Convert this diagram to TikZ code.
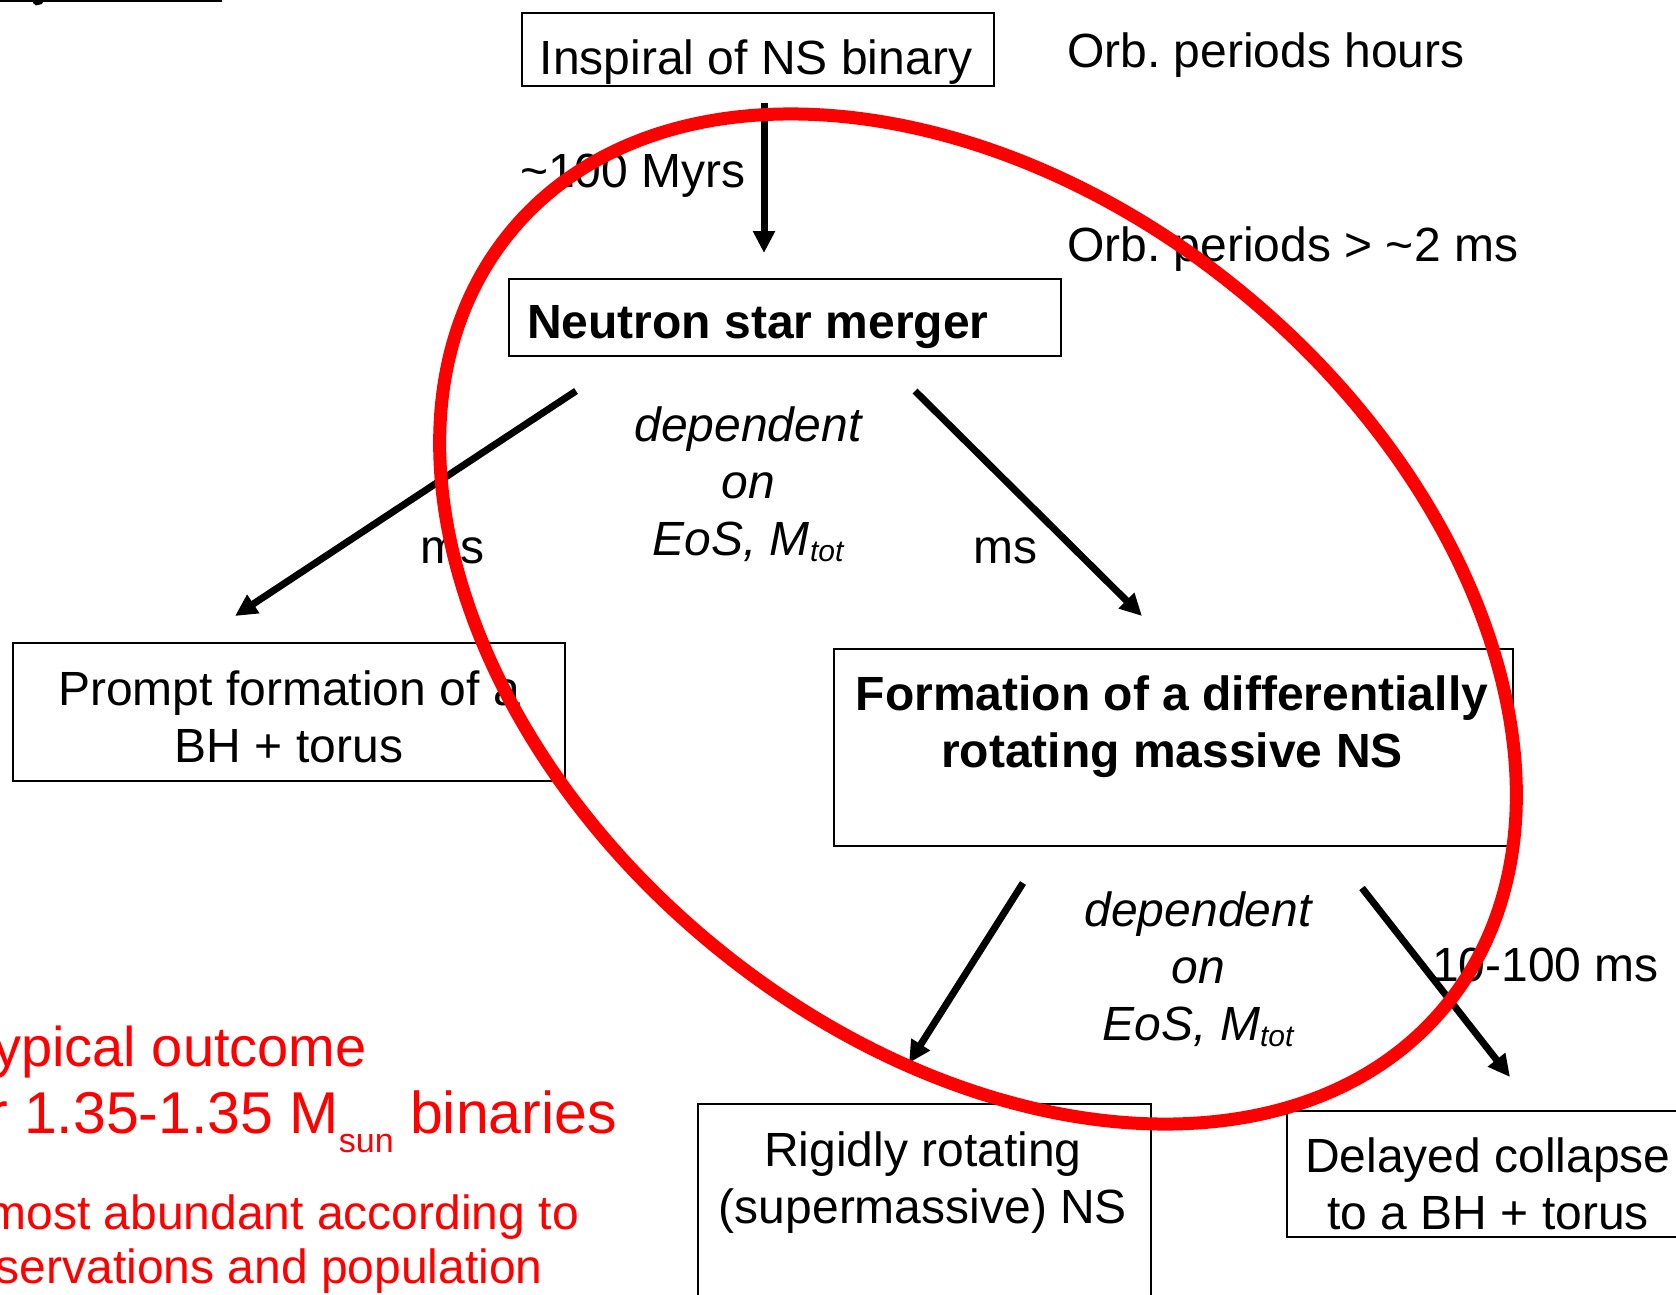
\documentclass[tikz,border=0pt]{standalone}
\usepackage{fontspec}
\setmainfont{Liberation Sans}
\usetikzlibrary{arrows.meta}
\newcommand\mylines[1]{\begin{tabular}[t]{@{}c@{}}#1\end{tabular}}
\frenchspacing
\begin{document}
\begin{tikzpicture}[x=1pt,y=1pt,
  txt/.style={inner sep=0pt, font=\fontsize{48}{57}\selectfont},
  box/.style={draw, line width=2pt, inner sep=0pt, anchor=north west},
  arr/.style={line width=7pt, -{Triangle[length=22pt,width=21pt]}},
  redtxt/.style={inner sep=0pt, text=red, anchor=base east}]
\clip (0,0) rectangle (1676,-1295);
\fill[white] (0,0) rectangle (1676,-1295);

% top-left cut-off underline
\draw[line width=2.5pt] (0,-1) -- (222,-1);
\fill (33,0) -- (44,0) -- (42,-4) -- (36,-5.5) -- (33,-3) -- cycle;

% boxes
\node[box, minimum width=472pt, minimum height=73pt] (inspiral) at (521,-12) {};
\node[box, minimum width=552pt, minimum height=77pt] (merger) at (508,-278) {};
\node[box, minimum width=552pt, minimum height=138pt] (prompt) at (12,-642) {};
\node[box, minimum width=679pt, minimum height=197pt] (formation) at (833,-648) {};
\node[box, minimum width=453pt, minimum height=230pt] (rigid) at (697,-1103) {};
\node[box, minimum width=420pt, minimum height=126pt] (delayed) at (1286,-1110) {};

% box texts
\node[txt, anchor=base] (tinspiral) at (756,-75) {Inspiral of NS binary};
\node[txt, anchor=base west, font=\fontsize{48}{57}\selectfont\bfseries] (tmerger) at (527,-338) {Neutron star merger};
\node[txt, anchor=base] (tprompt) at (289,-705) {\mylines{Prompt formation of a\\BH + torus}};
\node[txt, anchor=base, font=\fontsize{48}{57}\selectfont\bfseries] (tformation) at (1172,-710) {\mylines{Formation of a differentially\\rotating massive NS}};
\node[txt, anchor=base] (trigid) at (923,-1166) {\mylines{Rigidly rotating\\(supermassive) NS}};
\node[txt, anchor=base] (tdelayed) at (1488,-1172) {\mylines{Delayed collapse\\to a BH + torus}};

% side labels
\node[txt, anchor=base west] (orb1) at (1067,-68) {Orb. periods hours};
\node[txt, anchor=base west] (myrs) at (520,-187) {\textasciitilde100 Myrs};
\node[txt, anchor=base west] (orb2) at (1067,-261) {Orb. periods > \textasciitilde2 ms};
\node[txt, anchor=base west] (ms1) at (420,-563) {ms};
\node[txt, anchor=base west] (ms2) at (973,-563) {ms};
\node[txt, anchor=base west] (ms3) at (1432,-981) {10-100 ms};
\node[txt, anchor=base, font=\fontsize{48}{57}\selectfont\itshape] (dep1) at (748,-441)
  {\mylines{dependent\\on\\EoS, M{\fontsize{30}{30}\selectfont\raisebox{-6pt}{tot}}}};
\node[txt, anchor=base, font=\fontsize{48}{57}\selectfont\itshape] (dep2) at (1198,-926)
  {\mylines{dependent\\on\\EoS, M{\fontsize{30}{30}\selectfont\raisebox{-6pt}{tot}}}};

% arrows
\coordinate (a1s) at (764,-103); \coordinate (a1e) at (764,-253);
\coordinate (a2s) at (576,-391); \coordinate (a2e) at (235,-616);
\coordinate (a3s) at (915,-391); \coordinate (a3e) at (1142,-616);
\coordinate (a4s) at (1023,-883); \coordinate (a4e) at (909,-1063);
\coordinate (a5s) at (1362,-888); \coordinate (a5e) at (1510,-1077);
\draw[arr] (a1s) -- (a1e);
\draw[arr] (a2s) -- (a2e);
\draw[arr] (a3s) -- (a3e);
\draw[arr] (a4s) -- (a4e);
\draw[arr] (a5s) -- (a5e);

% red text (cut at the left edge)
\node[redtxt, font=\fontsize{56}{64}\selectfont] (r1) at (367,-1066) {ypical outcome};
\node[redtxt, font=\fontsize{59}{64}\selectfont] (r2) at (617,-1133)
  {r 1.35-1.35 M{\fontsize{34}{34}\selectfont\raisebox{-19pt}{sun}} binaries};
\node[redtxt, font=\fontsize{48}{57}\selectfont] (r3) at (579,-1229) {most abundant according to};
\node[redtxt, font=\fontsize{48}{57}\selectfont] (r4) at (543,-1283) {servations and population};

% red ellipse
\draw[red, line width=13pt, rotate around={-39.8:(978,-619)}] (978,-619) ellipse [x radius=607, y radius=420];
\end{tikzpicture}
\end{document}
